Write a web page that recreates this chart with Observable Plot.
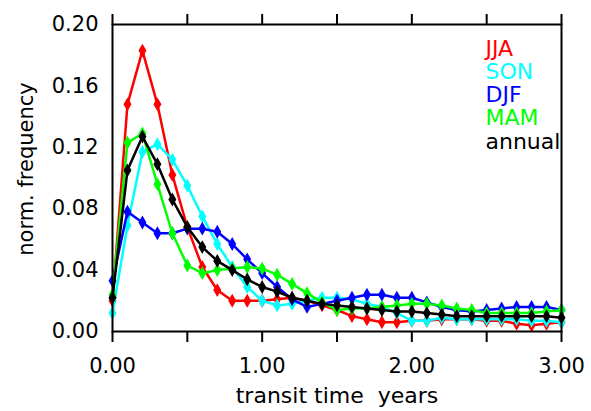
<!DOCTYPE html>
<html>
<head>
<meta charset="utf-8">
<script src="https://cdn.jsdelivr.net/npm/d3@7"></script>
<script src="https://cdn.jsdelivr.net/npm/@observablehq/plot@0.6"></script>
<style>
  html, body { margin: 0; padding: 0; background: #fff; }
  svg text { white-space: pre; }
</style>
</head>
<body>
<div id="chart"></div>
<script>
const t = [0.0, 0.1, 0.2, 0.3, 0.4, 0.5, 0.6, 0.7, 0.8, 0.9, 1.0, 1.1, 1.2, 1.3, 1.4, 1.5,
           1.6, 1.7, 1.8, 1.9, 2.0, 2.1, 2.2, 2.3, 2.4, 2.5, 2.6, 2.7, 2.8, 2.9, 3.0];

const jja = [0.020, 0.148, 0.183, 0.148, 0.102, 0.068, 0.042, 0.027, 0.020, 0.020, 0.020,
             0.021, 0.022, 0.020, 0.017, 0.014, 0.010, 0.008, 0.006, 0.006, 0.007,
             0.007, 0.008, 0.008, 0.008, 0.007, 0.007, 0.005, 0.004, 0.005, 0.006];
const son = [0.012, 0.069, 0.117, 0.122, 0.112, 0.095, 0.075, 0.057, 0.042, 0.029, 0.020,
             0.017, 0.018, 0.020, 0.022, 0.022, 0.021, 0.018, 0.016, 0.012, 0.007,
             0.007, 0.009, 0.008, 0.008, 0.008, 0.008, 0.008, 0.007, 0.007, 0.006];
const djf = [0.033, 0.078, 0.071, 0.064, 0.064, 0.067, 0.067, 0.065, 0.057, 0.047, 0.038,
             0.029, 0.021, 0.016, 0.018, 0.020, 0.022, 0.024, 0.024, 0.022, 0.022,
             0.019, 0.016, 0.014, 0.013, 0.014, 0.015, 0.016, 0.016, 0.016, 0.014];
const mam = [0.024, 0.123, 0.129, 0.096, 0.064, 0.043, 0.038, 0.040, 0.041, 0.042, 0.041,
             0.037, 0.031, 0.025, 0.019, 0.014, 0.015, 0.015, 0.016, 0.017, 0.018,
             0.018, 0.017, 0.015, 0.014, 0.012, 0.012, 0.012, 0.012, 0.013, 0.014];
const annual = [0.022, 0.105, 0.127, 0.109, 0.086, 0.068, 0.055, 0.046, 0.040, 0.034, 0.029,
                0.026, 0.022, 0.020, 0.018, 0.017, 0.016, 0.015, 0.014, 0.013, 0.013,
                0.012, 0.011, 0.010, 0.010, 0.010, 0.010, 0.010, 0.010, 0.010, 0.009];

const seasons = ["JJA", "SON", "DJF", "MAM", "annual"];
const colors = ["#ff0000", "#00ffff", "#0000ff", "#00ff00", "#000000"];
const xTicks = [0, 0.5, 1, 1.5, 2, 2.5, 3];
const xLabels = [0, 1, 2, 3];
const yTicks = [0, 0.04, 0.08, 0.12, 0.16, 0.20];
const xTitle = "transit time  years";
const yTitle = "norm. frequency";

const series = [jja, son, djf, mam, annual];
const data = seasons.flatMap((s, i) => series[i].map((v, j) => ({season: s, t: t[j], v})));

const font = "DejaVu Sans";

const seriesMarks = seasons.flatMap(s => {
  const d = data.filter(r => r.season === s);
  return [
    Plot.line(d, {x: "t", y: "v", stroke: "season", strokeWidth: 2.5}),
    Plot.dot(d, {x: "t", y: "v", fill: "season", symbol: "diamond", r: 4.2})
  ];
});

const legendMarks = seasons.map((s, i) =>
  Plot.text([s], {
    frameAnchor: "top-left", dx: 373, dy: 31 + i * 23.3,
    text: d => d, fill: colors[i], fontSize: 22, textAnchor: "start", lineAnchor: "bottom"
  })
);

const chart = Plot.plot({
  width: 591,
  height: 411,
  marginLeft: 112,
  marginRight: 30,
  marginTop: 24,
  marginBottom: 80,
  style: {fontFamily: font, background: "#fff", color: "#000"},
  x: {domain: [0, 3]},
  y: {domain: [0, 0.2]},
  color: {domain: seasons, range: colors},
  marks: [
    ...seriesMarks,
    Plot.frame({stroke: "#000", strokeWidth: 2}),
    Plot.axisX({ticks: xTicks, tickSize: 11, tickFormat: () => "", strokeWidth: 2, label: null}),
    Plot.axisX({anchor: "top", ticks: xTicks, tickSize: 11, tickFormat: () => "", strokeWidth: 2, label: null}),
    Plot.axisX({ticks: xLabels, tickSize: 0, tickPadding: 27, tickFormat: d => d.toFixed(2), fontSize: 21, label: null}),
    Plot.axisY({ticks: yTicks, tickSize: 0, tickPadding: 14, tickFormat: d => d.toFixed(2), fontSize: 21, label: null}),
    Plot.text([xTitle], {frameAnchor: "bottom", dy: 71, text: d => d, fontSize: 22, lineAnchor: "bottom"}),
    Plot.text([yTitle], {frameAnchor: "left", dx: -86, dy: -9, rotate: -90, text: d => d, fontSize: 21, textAnchor: "middle", lineAnchor: "middle"}),
    ...legendMarks
  ]
});

document.getElementById("chart").appendChild(chart);
</script>
</body>
</html>
